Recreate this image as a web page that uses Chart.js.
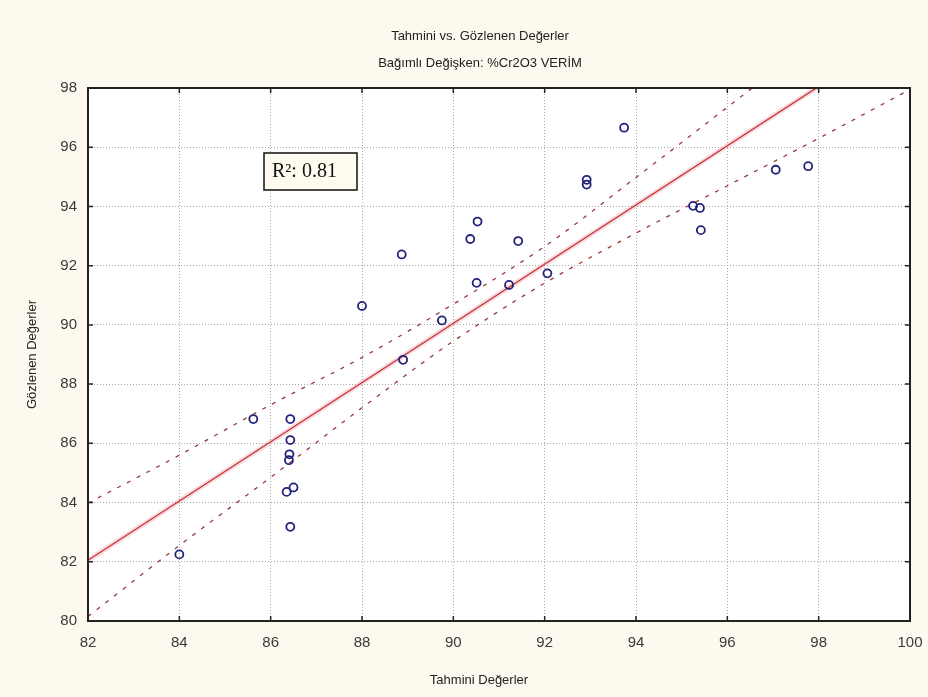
<!DOCTYPE html>
<html>
<head>
<meta charset="utf-8">
<title>Tahmini vs. Gözlenen Değerler</title>
<script src="https://cdn.jsdelivr.net/npm/chart.js@4/dist/chart.umd.min.js"></script>
<style>
  html, body { margin: 0; padding: 0; background: #fdf9ef; }
  canvas { display: block; }
</style>
</head>
<body>
<canvas id="fitChart" width="928" height="697"></canvas>
<script>
// observed vs predicted, one pair per run
const predicted = [84.0, 85.62, 86.43, 86.43, 86.41, 86.40, 86.35, 86.50, 86.43,
    88.0, 88.90, 89.75, 90.51, 91.22, 88.87, 90.53, 90.37, 91.42, 92.06,
    93.74, 92.92, 92.92, 95.25, 95.40, 95.42, 97.06, 97.77]
const observed = [82.25, 86.82, 86.82, 86.11, 85.63, 85.43, 84.36, 84.51, 83.18,
    90.64, 88.82, 90.15, 91.42, 91.35, 92.38, 93.49, 92.90, 92.83, 91.74,
    96.66, 94.90, 94.74, 94.02, 93.95, 93.20, 95.24, 95.36]

// regression line and 95% band
const fitX = [82, 100]
const fitY = [82.05, 100.05]
const bandX = [82, 84, 86, 88, 90, 92, 94, 96, 98, 100]
const bandUpper = [83.98, 85.6, 87.3, 88.9, 90.7, 92.65, 94.98, 97.35, 99.75, 102.15]
const bandLower = [80.15, 82.55, 84.85, 87.2, 89.45, 91.41, 93.1, 94.7, 96.3, 97.95]

const xTicks = [82, 84, 86, 88, 90, 92, 94, 96, 98, 100]
const yTicks = [80, 82, 84, 86, 88, 90, 92, 94, 96, 98]

const titleLines = ['Tahmini vs. Gözlenen Değerler', 'Bağımlı Değişken: %Cr2O3 VERİM']
const xTitle = 'Tahmini Değerler'
const yTitle = 'Gözlenen Değerler'
const r2Text = 'R²: 0.81'

const pairs = (xs, ys) => xs.map((x, i) => ({ x, y: ys[i] }))

const bandStyle = {
    type: 'line',
    borderColor: '#983a3a',
    borderWidth: 1.3,
    borderDash: [4, 7],
    pointRadius: 0,
    cubicInterpolationMode: 'monotone',
    fill: false
}

const frame = {
    id: 'frame',
    beforeDraw(chart) {
        const { ctx, chartArea: a } = chart
        ctx.save()
        ctx.fillStyle = '#fdf9ef'
        ctx.fillRect(0, 0, chart.width, chart.height)
        ctx.fillStyle = '#ffffff'
        ctx.fillRect(a.left, a.top, a.right - a.left, a.bottom - a.top)
        ctx.restore()
    },
    afterDraw(chart) {
        const { ctx, chartArea: a, scales } = chart
        ctx.save()

        // plot frame and inward ticks
        ctx.strokeStyle = '#222'
        ctx.lineWidth = 2
        ctx.strokeRect(a.left, a.top, a.right - a.left, a.bottom - a.top)
        ctx.lineWidth = 1.5
        ctx.beginPath()
        xTicks.forEach(v => {
            const px = scales.x.getPixelForValue(v)
            ctx.moveTo(px, a.bottom); ctx.lineTo(px, a.bottom - 5)
            ctx.moveTo(px, a.top); ctx.lineTo(px, a.top + 5)
        })
        yTicks.forEach(v => {
            const py = scales.y.getPixelForValue(v)
            ctx.moveTo(a.left, py); ctx.lineTo(a.left + 5, py)
            ctx.moveTo(a.right, py); ctx.lineTo(a.right - 5, py)
        })
        ctx.stroke()

        // titles
        ctx.fillStyle = '#222'
        ctx.textAlign = 'center'
        ctx.textBaseline = 'middle'
        ctx.font = '13px "Liberation Sans", Arial, sans-serif'
        ctx.fillText(titleLines[0], 480, 36)
        ctx.fillText(titleLines[1], 480, 63)
        ctx.fillText(xTitle, 479, 680)
        ctx.save()
        ctx.translate(32, (a.top + a.bottom) / 2)
        ctx.rotate(-Math.PI / 2)
        ctx.fillText(yTitle, 0, 0)
        ctx.restore()

        // R² label box
        ctx.fillStyle = '#fffbef'
        ctx.fillRect(264, 153, 93, 37)
        ctx.strokeStyle = '#111'
        ctx.lineWidth = 1.5
        ctx.strokeRect(264, 153, 93, 37)
        ctx.fillStyle = '#111'
        ctx.textAlign = 'left'
        ctx.font = '20px "Liberation Serif", "Times New Roman", serif'
        ctx.fillText(r2Text, 272, 172)

        ctx.restore()
    }
}

const tickFont = { family: '"Liberation Sans", Arial, sans-serif', size: 15 }

new Chart(document.getElementById('fitChart'), {
    type: 'scatter',
    data: {
        datasets: [
            {
                data: pairs(predicted, observed),
                pointStyle: 'circle',
                pointRadius: 4,
                pointBorderWidth: 1.8,
                pointBorderColor: '#22227a',
                pointBackgroundColor: 'rgba(0,0,0,0)',
                order: 0
            },
            {
                type: 'line',
                data: pairs(fitX, fitY),
                borderColor: '#c4343c',
                borderWidth: 1.3,
                pointRadius: 0,
                fill: false,
                order: 1
            },
            {
                // soft halo under the fit line
                type: 'line',
                data: pairs(fitX, fitY),
                borderColor: 'rgba(235,130,140,0.28)',
                borderWidth: 5,
                pointRadius: 0,
                fill: false,
                order: 3
            },
            { ...bandStyle, data: pairs(bandX, bandUpper), order: 2 },
            { ...bandStyle, data: pairs(bandX, bandLower), order: 2 }
        ]
    },
    options: {
        responsive: false,
        animation: false,
        devicePixelRatio: 1,
        layout: { padding: { top: 88, right: 18, left: 0, bottom: 0 } },
        plugins: { legend: { display: false }, tooltip: { enabled: false } },
        scales: {
            x: {
                type: 'linear',
                min: 82,
                max: 100,
                afterBuildTicks: s => { s.ticks = xTicks.map(value => ({ value })) },
                afterFit: s => { s.height = 76; s.paddingRight = 0; s.paddingLeft = 0 },
                ticks: { color: '#3a3a3a', font: tickFont, padding: 13, maxRotation: 0 },
                grid: { color: '#a8a8a8', lineWidth: 1, drawTicks: false },
                border: { display: false, dash: [1, 2] }
            },
            y: {
                type: 'linear',
                min: 80,
                max: 98,
                afterBuildTicks: s => { s.ticks = yTicks.map(value => ({ value })) },
                afterFit: s => { s.width = 88; s.paddingTop = 0; s.paddingBottom = 0 },
                ticks: { color: '#3a3a3a', font: tickFont, padding: 11 },
                grid: { color: '#a8a8a8', lineWidth: 1, drawTicks: false },
                border: { display: false, dash: [1, 2] }
            }
        }
    },
    plugins: [frame]
})
</script>
</body>
</html>
